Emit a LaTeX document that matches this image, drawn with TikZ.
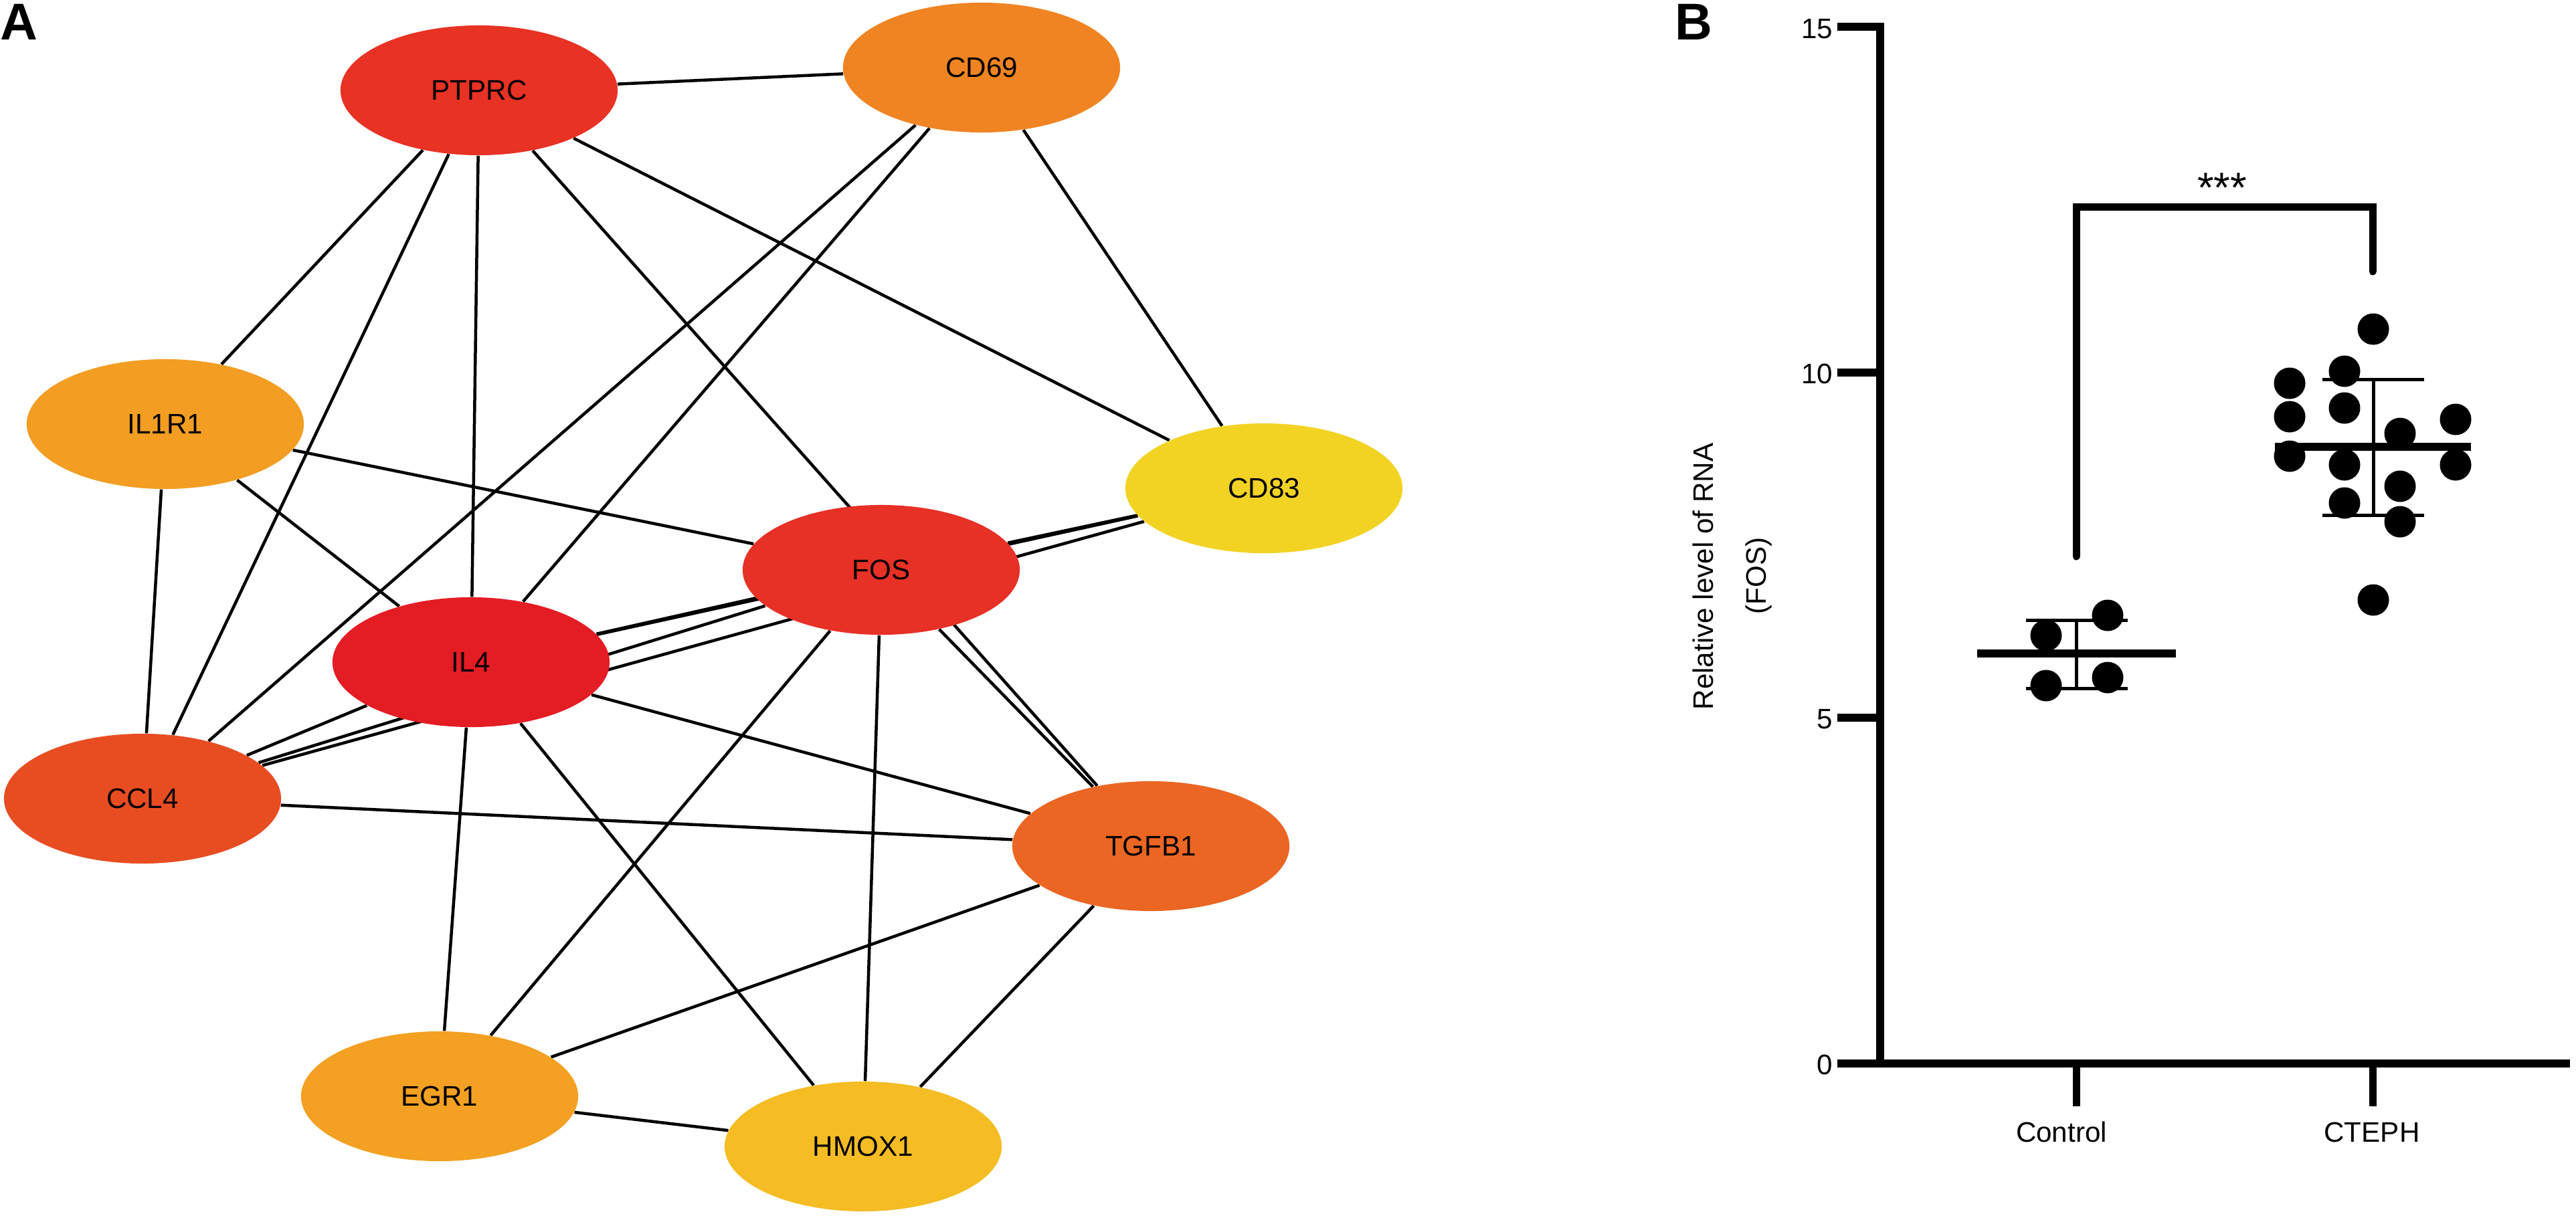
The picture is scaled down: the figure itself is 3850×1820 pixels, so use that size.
\documentclass[tikz,border=0pt]{standalone}
\usepackage{fontspec}
\setmainfont{Liberation Sans}
\usetikzlibrary{shapes.geometric}
\pgfdeclarelayer{edgelayer}
\pgfsetlayers{edgelayer,main}
\definecolor{cPTPRC}{HTML}{E83224}
\definecolor{cCDsixnine}{HTML}{F08423}
\definecolor{cILoneRone}{HTML}{F39D22}
\definecolor{cCDeightthree}{HTML}{F2D324}
\definecolor{cFOS}{HTML}{E73026}
\definecolor{cILfour}{HTML}{E41C24}
\definecolor{cCCLfour}{HTML}{E84D22}
\definecolor{cTGFBone}{HTML}{EB6623}
\definecolor{cEGRone}{HTML}{F4A022}
\definecolor{cHMOXone}{HTML}{F5BC24}
\begin{document}
\begin{tikzpicture}[x=0.01cm,y=-0.01cm,
  gene/.style={ellipse, minimum width=4.14cm, minimum height=1.94cm, inner sep=0pt,
    font=\fontsize{12}{14}\selectfont},
  link/.style={line width=0.045cm, black},
  panellabel/.style={anchor=base west, inner sep=0pt, font=\bfseries\fontsize{22}{24}\selectfont},
  axisline/.style={line width=0.12cm, line cap=butt},
  ticklabel/.style={anchor=east, inner sep=0pt, font=\fontsize{12}{14}\selectfont},
  grouplabel/.style={anchor=base, inner sep=0pt, font=\fontsize{12}{14}\selectfont},
  bracket/.style={line width=0.11cm, line cap=round, line join=miter},
  meanbar/.style={line width=0.12cm},
  sdbar/.style={line width=0.05cm},
  datadot/.style={circle, fill=black, minimum size=0.47cm, inner sep=0pt}]
\useasboundingbox (0,0) rectangle (3850,1820);

% ---------- Panel A ----------
\node[panellabel] (lblA) at (0,59) {A};
\node[gene, fill=cPTPRC] (PTPRC) at (716,135) {PTPRC};
\node[gene, fill=cCDsixnine] (CD69) at (1467,101) {CD69};
\node[gene, fill=cILoneRone] (IL1R1) at (247,634) {IL1R1};
\node[gene, fill=cCDeightthree] (CD83) at (1889,730) {CD83};
\node[gene, fill=cFOS] (FOS) at (1317,852) {FOS};
\node[gene, fill=cILfour] (IL4) at (704,990) {IL4};
\node[gene, fill=cCCLfour] (CCL4) at (213,1194) {CCL4};
\node[gene, fill=cTGFBone] (TGFB1) at (1720,1265) {TGFB1};
\node[gene, fill=cEGRone] (EGR1) at (657,1639) {EGR1};
\node[gene, fill=cHMOXone] (HMOX1) at (1290,1714) {HMOX1};

\begin{pgfonlayer}{edgelayer}
\draw[link] (PTPRC) -- (CD69);
\draw[link] (PTPRC) -- (IL1R1);
\draw[link] (PTPRC) -- (CCL4);
\draw[link] (PTPRC) -- (IL4);
\draw[link] (PTPRC) -- (CD83);
\draw[link] (PTPRC) -- (TGFB1);
\draw[link] (CD69) -- (CCL4);
\draw[link] (CD69) -- (IL4);
\draw[link] (CD69) -- (CD83);
\draw[link] (IL1R1) -- (CCL4);
\draw[link] (IL1R1) -- (FOS);
\draw[link] (IL1R1) -- (IL4);
\draw[link] (CD83) -- (FOS);
\draw[link] (CD83) -- (IL4);
\draw[link] (CD83) -- (CCL4);
\draw[link] (FOS) -- (IL4);
\draw[link] (FOS) -- (CCL4);
\draw[link] (FOS) -- (TGFB1);
\draw[link] (FOS) -- (EGR1);
\draw[link] (FOS) -- (HMOX1);
\draw[link] (IL4) -- (CCL4);
\draw[link] (IL4) -- (TGFB1);
\draw[link] (IL4) -- (EGR1);
\draw[link] (IL4) -- (HMOX1);
\draw[link] (CCL4) -- (TGFB1);
\draw[link] (TGFB1) -- (EGR1);
\draw[link] (TGFB1) -- (HMOX1);
\draw[link] (EGR1) -- (HMOX1);
\end{pgfonlayer}

% ---------- Panel B ----------
\node[panellabel] (lblB) at (2503,59) {B};

% axes
\coordinate (yTop) at (2810,34);
\coordinate (yBot) at (2810,1596);
\coordinate (xLeft) at (2746,1590);
\coordinate (xRight) at (3841,1590);
\draw[axisline] (yTop) -- (yBot);
\draw[axisline] (xLeft) -- (xRight);
\foreach \v/\yy in {15/40, 10/557, 5/1073}{
  \coordinate (tk\v) at (2746,\yy);
  \coordinate (ta\v) at (2810,\yy);
  \draw[axisline] (tk\v) -- (ta\v);
}
\node[ticklabel] (lab15) at (2740,43) {15};
\node[ticklabel] (lab10) at (2740,559) {10};
\node[ticklabel] (lab5) at (2740,1075) {5};
\node[ticklabel] (lab0) at (2740,1592) {0};

% x ticks
\coordinate (ctrlX) at (3103,1590);
\coordinate (ctrlXb) at (3103,1654);
\coordinate (ctephX) at (3546,1590);
\coordinate (ctephXb) at (3546,1654);
\draw[line width=0.11cm] (ctrlX) -- (ctrlXb);
\draw[line width=0.11cm] (ctephX) -- (ctephXb);
\node[grouplabel] (labCtrl) at (3081,1707) {Control};
\node[grouplabel] (labCteph) at (3545,1707) {CTEPH};

% y axis title
\node[rotate=90, inner sep=0pt, font=\fontsize{12}{14}\selectfont] (ytitle1) at (2545,862) {Relative level of RNA};
\node[rotate=90, inner sep=0pt, font=\fontsize{12}{14}\selectfont] (ytitle2) at (2629,861) {(FOS)};

% significance bracket
\coordinate (brLb) at (3103,832);
\coordinate (brLt) at (3103,309);
\coordinate (brRt) at (3546,309);
\coordinate (brRb) at (3546,406);
\draw[bracket] (brLb) -- (brLt) -- (brRt) -- (brRb);
\node[inner sep=0pt, font=\fontsize{18}{20}\selectfont] (stars) at (3321,281) {***};

% Control group
\foreach \dx/\dy [count=\i] in {3058/950, 3150/920, 3058/1025, 3150/1013}{
  \node[datadot] (c\i) at (\dx,\dy) {};
}
\coordinate (cmL) at (2955,977);
\coordinate (cmR) at (3252,977);
\draw[meanbar] (cmL) -- (cmR);
\coordinate (csT) at (3103,927);
\coordinate (csB) at (3103,1029);
\draw[sdbar] (csT) -- (csB);
\coordinate (csTl) at (3028,927);
\coordinate (csTr) at (3180,927);
\coordinate (csBl) at (3028,1029);
\coordinate (csBr) at (3180,1029);
\draw[sdbar] (csTl) -- (csTr);
\draw[sdbar] (csBl) -- (csBr);

% CTEPH group
\foreach \dx/\dy [count=\i] in {3547/492, 3504/555, 3422/573, 3422/623, 3504/610, 3670/627, 3587/648,
  3422/682, 3504/695, 3670/695, 3587/727, 3504/752, 3587/780, 3547/897}{
  \node[datadot] (t\i) at (\dx,\dy) {};
}
\coordinate (tmL) at (3400,668);
\coordinate (tmR) at (3693,668);
\draw[meanbar] (tmL) -- (tmR);
\coordinate (tsT) at (3547,567);
\coordinate (tsB) at (3547,770);
\draw[sdbar] (tsT) -- (tsB);
\coordinate (tsTl) at (3471,567);
\coordinate (tsTr) at (3623,567);
\coordinate (tsBl) at (3471,770);
\coordinate (tsBr) at (3623,770);
\draw[sdbar] (tsTl) -- (tsTr);
\draw[sdbar] (tsBl) -- (tsBr);
\end{tikzpicture}
\end{document}
